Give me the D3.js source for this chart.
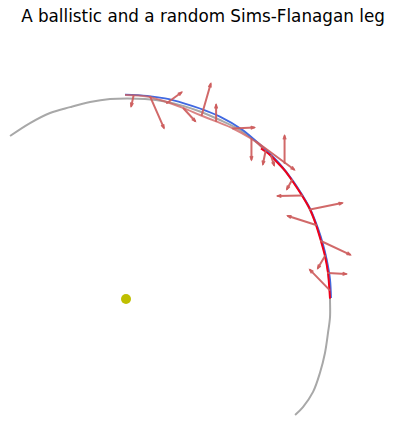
<!DOCTYPE html>
<html>
<head>
<meta charset="utf-8">
<script src="https://cdn.jsdelivr.net/npm/d3@7"></script>
<style>
  html, body { margin: 0; padding: 0; background: #fff; }
  svg { display: block; }
</style>
</head>
<body>
<script>
// ---- Data (positions in AU, Sun at origin) ----
const title = "A ballistic and a random Sims-Flanagan leg";

const orbitX = [-0.574,-0.475,-0.376,-0.277,-0.178,-0.079,0.005,0.094,0.193,0.287,0.366,0.465,0.564,0.639,0.688,0.762,0.822,0.871,0.911,0.946,0.970,0.990,1.002,1.010,1.010,1.010,1.000,0.985,0.960,0.926,0.876,0.837];
const orbitY = [0.807,0.871,0.921,0.950,0.975,0.990,0.993,0.990,0.978,0.955,0.928,0.886,0.837,0.782,0.738,0.663,0.589,0.515,0.441,0.356,0.277,0.203,0.119,0.045,-0.005,-0.089,-0.168,-0.267,-0.366,-0.460,-0.535,-0.574];

const ballisticX = [-0.005,0.104,0.193,0.287,0.366,0.465,0.574,0.649,0.703,0.762,0.822,0.871,0.916,0.950,0.975,0.995,1.010,1.015];
const ballisticY = [1.012,1.006,0.993,0.969,0.943,0.903,0.839,0.777,0.728,0.668,0.592,0.517,0.438,0.351,0.272,0.188,0.099,0.005];

const fwdX = [-0.005,0.104,0.193,0.282,0.366,0.446,0.530,0.614,0.653,0.683];
const fwdY = [1.010,1.003,0.978,0.946,0.911,0.879,0.844,0.797,0.770,0.740];

const bwdX = [0.668,0.713,0.752,0.787,0.827,0.871,0.911,0.941,0.965,0.985,1.000,1.007,1.010];
const bwdY = [0.745,0.713,0.673,0.636,0.579,0.512,0.443,0.366,0.287,0.213,0.129,0.045,0.002];

// thrust arrows: start point and vector
const thrustX = [0.037,0.120,0.203,0.285,0.375,0.446,0.530,0.621,0.644,0.691, 0.718,0.785,0.822,0.871,0.911,0.941,0.965,0.985,1.000,1.007];
const thrustY = [1.005,1.001,0.970,0.943,0.911,0.881,0.844,0.792,0.780,0.733, 0.710,0.673,0.589,0.512,0.443,0.366,0.287,0.213,0.129,0.045];
const thrustU = [-0.011,0.067,0.071,0.057,0.044,0.000,0.104,0.000,0.188,-0.013, 0.015,0.000,-0.025,-0.119,0.158,-0.139,0.144,-0.035,0.089,-0.096];
const thrustV = [-0.050,-0.153,0.052,-0.062,0.153,0.079,0.005,-0.101,-0.139,-0.065, -0.047,0.134,-0.044,-0.002,0.032,0.045,-0.067,-0.060,-0.005,0.099];

const sun = {x: 0, y: 0};

// ---- Drawing ----
const W = 404, H = 425;
const svg = d3.select("body").append("svg").attr("width", W).attr("height", H);

const x = d3.scaleLinear().domain([-1, 1]).range([126 - 202, 126 + 202]);
const y = d3.scaleLinear().domain([-1, 1]).range([299 + 202, 299 - 202]);

const line = d3.line().x(d => x(d[0])).y(d => y(d[1])).curve(d3.curveCatmullRom.alpha(0.5));
const zip = (a, b) => a.map((v, i) => [v, b[i]]);

svg.append("text")
  .attr("x", 203).attr("y", 22)
  .attr("text-anchor", "middle")
  .style("font-family", "DejaVu Sans, sans-serif")
  .style("font-size", "16.8px")
  .attr("fill", "#000")
  .text(title);

svg.append("path").attr("d", line(zip(orbitX, orbitY)))
  .attr("fill", "none").attr("stroke", "#a8a8a8").attr("stroke-width", 2);

svg.append("path").attr("d", line(zip(ballisticX, ballisticY)))
  .attr("fill", "none").attr("stroke", "royalblue").attr("stroke-width", 1.8);

svg.append("path").attr("d", line(zip(fwdX, fwdY)))
  .attr("fill", "none").attr("stroke", "indianred").attr("stroke-opacity", 0.75).attr("stroke-width", 2);

svg.append("path").attr("d", line(zip(bwdX, bwdY)))
  .attr("fill", "none").attr("stroke", "#f0001a").attr("stroke-width", 2);

// arrows
const g = svg.append("g").attr("stroke", "indianred")
  .attr("stroke-linecap", "round").attr("fill", "none").attr("stroke-opacity", 0.92);
thrustX.forEach((tx, i) => {
  const x0 = x(tx), y0 = y(thrustY[i]);
  const x1 = x(tx + thrustU[i]), y1 = y(thrustY[i] + thrustV[i]);
  const ang = Math.atan2(y1 - y0, x1 - x0);
  const hl = 3, ha = 0.4;
  g.append("line").attr("x1", x0).attr("y1", y0).attr("x2", x1).attr("y2", y1)
    .attr("stroke-width", 2);
  const p = d3.path();
  p.moveTo(x1 - hl * Math.cos(ang - ha), y1 - hl * Math.sin(ang - ha));
  p.lineTo(x1, y1);
  p.lineTo(x1 - hl * Math.cos(ang + ha), y1 - hl * Math.sin(ang + ha));
  g.append("path").attr("d", p.toString()).attr("stroke-width", 1.6);
});

svg.append("circle").attr("cx", x(sun.x)).attr("cy", y(sun.y)).attr("r", 5)
  .attr("fill", "#bfbf00");
</script>
</body>
</html>
